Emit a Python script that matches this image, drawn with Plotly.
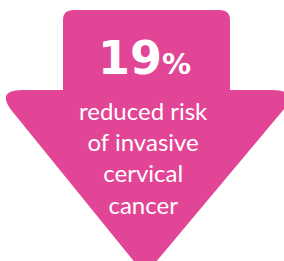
import plotly.graph_objects as go

# ---- data ----
stat_value = 19
stat_unit = "%"
label_lines = ["reduced risk", "of invasive", "cervical", "cancer"]

PINK = "#E24596"
W, H = 284, 261

# arrow geometry (pixel coordinates, y downward)
shaft_l, shaft_r, shaft_top, head_top = 63, 230, 10, 90
r_s = 10
head_lv, head_rv = (-5, 90), (300, 90)
apex = (145, 275)
d = 28


def along(p, q, dist):
    dx, dy = q[0] - p[0], q[1] - p[1]
    ln = (dx * dx + dy * dy) ** 0.5
    return (p[0] + dx / ln * dist, p[1] + dy / ln * dist)


rp = along(head_rv, apex, d)
lp = along(head_lv, apex, d)
path = (
    f"M {shaft_l},{shaft_top + r_s} Q {shaft_l},{shaft_top} {shaft_l + r_s},{shaft_top} "
    f"L {shaft_r - r_s},{shaft_top} Q {shaft_r},{shaft_top} {shaft_r},{shaft_top + r_s} "
    f"L {shaft_r},{head_top} L {head_rv[0] - d},{head_top} "
    f"Q {head_rv[0]},{head_rv[1]} {rp[0]:.1f},{rp[1]:.1f} "
    f"L {apex[0]},{apex[1]} L {lp[0]:.1f},{lp[1]:.1f} "
    f"Q {head_lv[0]},{head_lv[1]} {head_lv[0] + d},{head_top} "
    f"L {shaft_l},{head_top} Z"
)

fig = go.Figure()
fig.add_trace(go.Scatter(x=[0, W], y=[0, H], mode="markers",
                         marker=dict(opacity=0), hoverinfo="skip", showlegend=False))

fig.add_shape(type="path", path=path, xref="x", yref="y",
              fillcolor=PINK, line=dict(width=0), layer="below")

fig.add_annotation(
    x=144, y=58, xref="x", yref="y", xanchor="center", yanchor="middle",
    text=f"<b>{stat_value}<span style='font-size:29px'>{stat_unit}</span></b>",
    showarrow=False, font=dict(family="DejaVu Sans", size=46, color="white"),
)
fig.add_annotation(
    x=143, y=157, xref="x", yref="y", xanchor="center", yanchor="middle",
    text="<br>".join(label_lines), align="center",
    showarrow=False, font=dict(family="Lato", size=24, color="white"),
)

fig.update_layout(
    width=W, height=H, margin=dict(l=0, r=0, t=0, b=0),
    paper_bgcolor="white", plot_bgcolor="white",
    xaxis=dict(range=[0, W], visible=False, fixedrange=True),
    yaxis=dict(range=[H, 0], visible=False, fixedrange=True),
    showlegend=False,
)
fig.write_html("out.html", config={"displayModeBar": False},
               post_script="document.body.style.margin='0';document.body.style.overflow='hidden';")
